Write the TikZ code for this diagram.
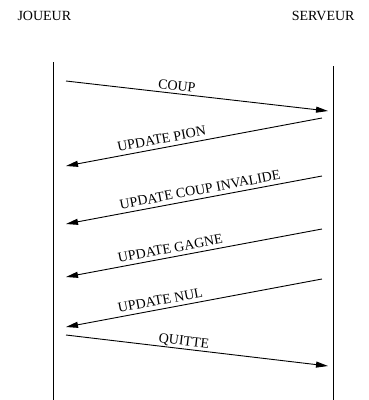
\documentclass[tikz,border=0pt]{standalone}
\usepackage{fontspec}
\setmainfont{Liberation Serif}
\usetikzlibrary{arrows.meta}
\begin{document}
\begin{tikzpicture}[x=1pt,y=-1pt,
  lifeline/.style={line width=0.9pt},
  msg/.style={line width=0.9pt,-{Triangle[length=12pt,width=6pt]}},
  actor/.style={font=\fontsize{14}{16}\selectfont,inner sep=0pt,anchor=base west},
  lbl/.style={font=\fontsize{14}{16}\selectfont,sloped,anchor=south,
              inner xsep=0pt,inner ysep=#1,text depth=0pt},
  lbl/.default=4pt]
  \useasboundingbox (0,0) rectangle (369,400);

  % participants
  \node[actor] (joueur)  at (17.3,20) {JOUEUR};
  \node[actor] (serveur) at (291.7,20) {SERVEUR};

  % lifelines
  \coordinate (jtop) at (53.3,62);
  \coordinate (jbot) at (53.3,400);
  \coordinate (stop) at (333.3,66);
  \coordinate (sbot) at (333.3,400);
  \draw[lifeline] (jtop) -- (jbot);
  \draw[lifeline] (stop) -- (sbot);

  % message end points
  \coordinate (m1a) at (66,81);   \coordinate (m1b) at (328,111);
  \coordinate (m2a) at (322,118); \coordinate (m2b) at (66,166);
  \coordinate (m3a) at (322,176); \coordinate (m3b) at (66,224);
  \coordinate (m4a) at (322,229); \coordinate (m4b) at (66,277);
  \coordinate (m5a) at (322,279); \coordinate (m5b) at (66,327);
  \coordinate (m6a) at (66,335);  \coordinate (m6b) at (328,366);

  % messages
  \draw[msg] (m1a) -- node[lbl=3pt,pos=0.42] (l1) {COUP} (m1b);
  \draw[msg] (m2a) -- node[lbl,pos=0.62] (l2) {UPDATE PION} (m2b);
  \draw[msg] (m3a) -- node[lbl,pos=0.47] (l3) {UPDATE COUP INVALIDE} (m3b);
  \draw[msg] (m4a) -- node[lbl,pos=0.586] (l4) {UPDATE GAGNE} (m4b);
  \draw[msg] (m5a) -- node[lbl,pos=0.625] (l5) {UPDATE NUL} (m5b);
  \draw[msg] (m6a) -- node[lbl=3pt,pos=0.447] (l6) {QUITTE} (m6b);
\end{tikzpicture}
\end{document}
